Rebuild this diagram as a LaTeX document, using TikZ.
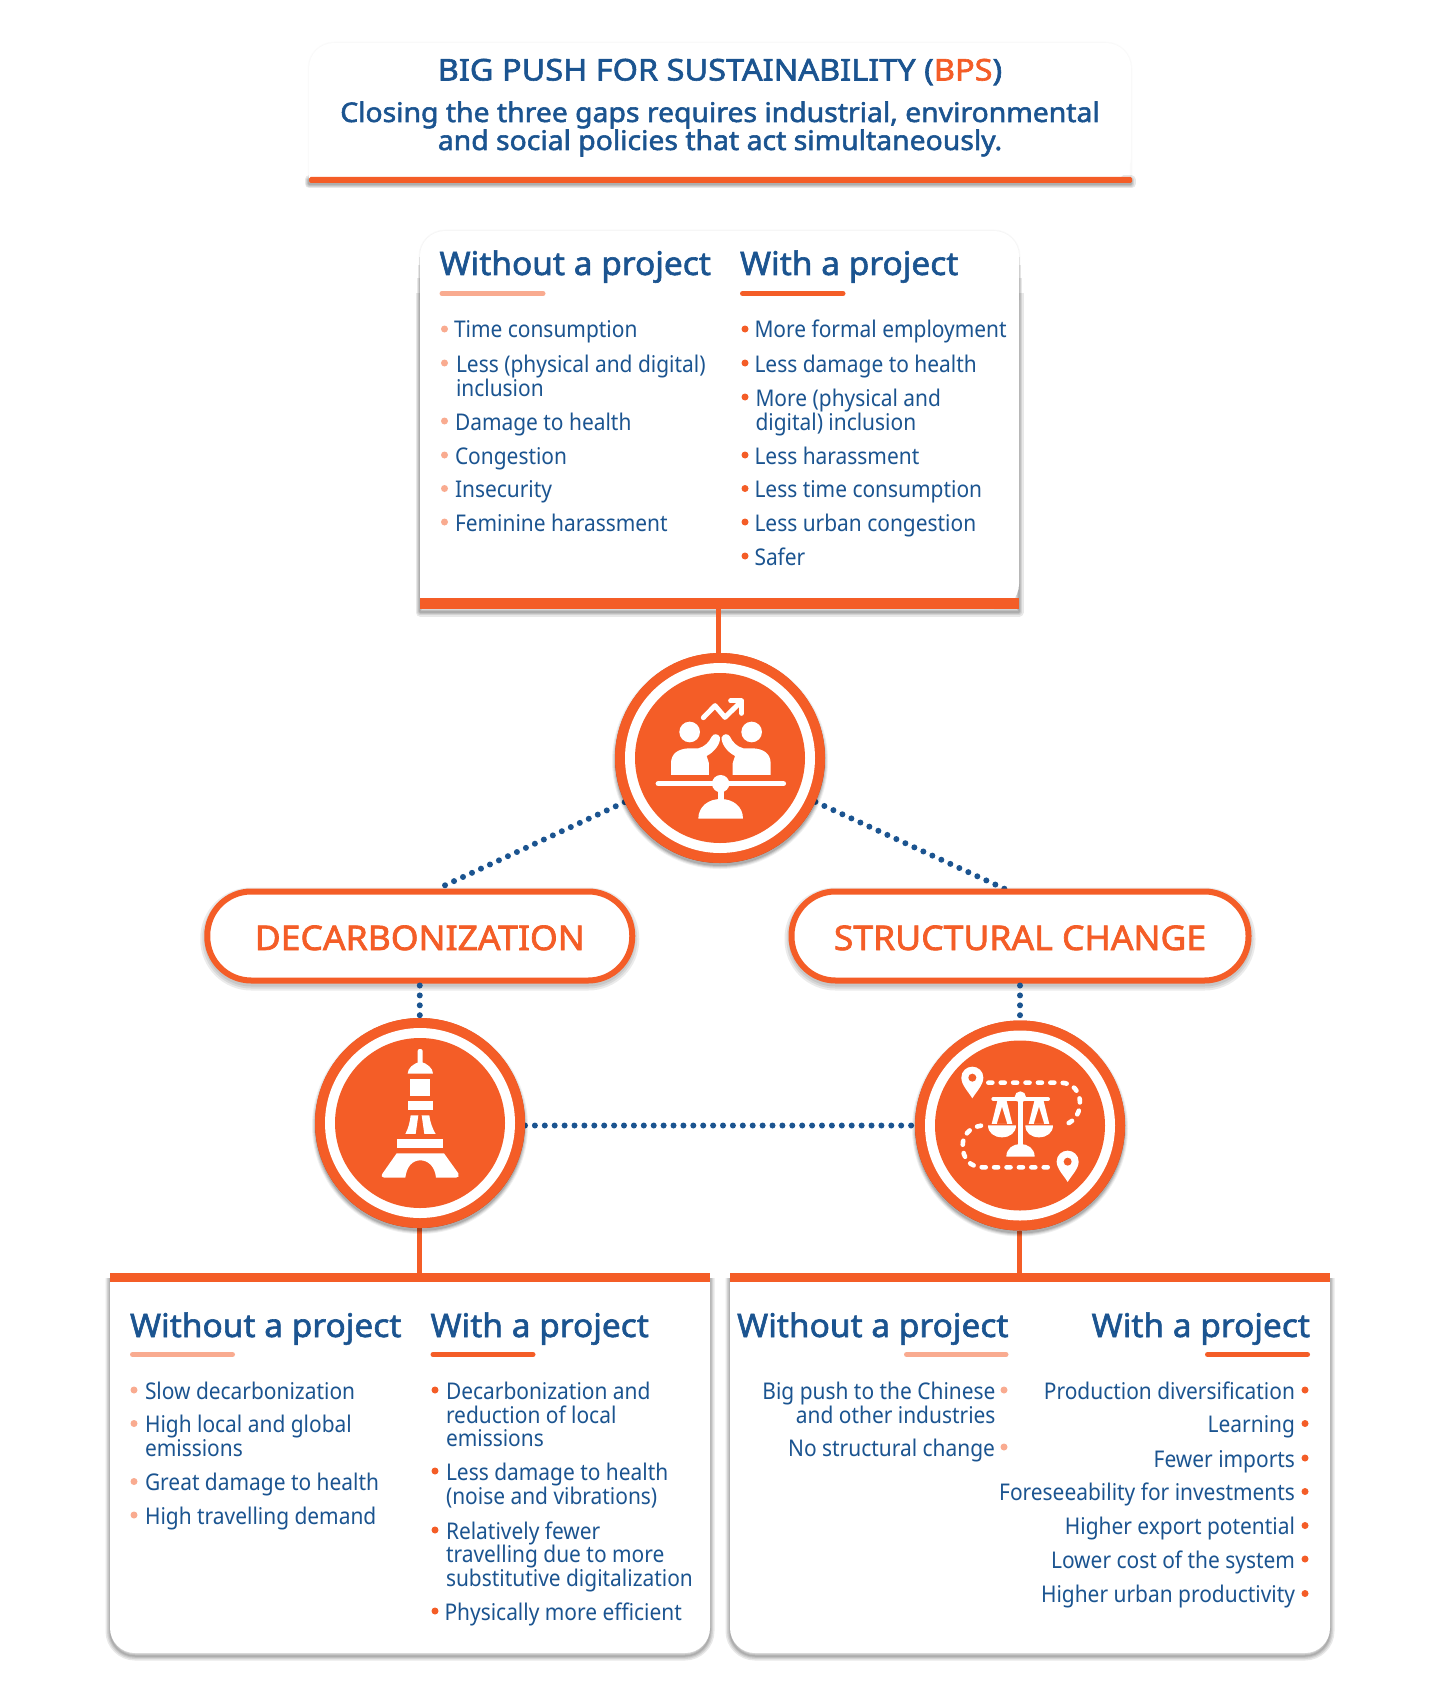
\documentclass[tikz,border=0pt]{standalone}
\usepackage{fontspec}
\setmainfont{Noto Sans}
\newfontfamily\bodyf[FakeStretch=0.91]{Noto Sans}
\newfontfamily\headf[FakeStretch=1.03,FakeBold=1.8]{Noto Sans}
\newfontfamily\titlef[FakeStretch=1.083,FakeBold=2]{Noto Sans}
\newfontfamily\subf[FakeStretch=1.05,FakeBold=2]{Noto Sans}
\newfontfamily\pillf[FakeStretch=1.045,FakeBold=2]{Noto Sans}
\definecolor{org}{HTML}{F45D27}
\definecolor{lorg}{HTML}{F9AB90}
\definecolor{blu}{HTML}{1B5490}
\newcount\nn
\newcommand{\TL}[3]{\global\advance\nn by 1 \node[txt,anchor=base west] (t\the\nn) at (#1,#2) {#3};}
\newcommand{\TR}[3]{\global\advance\nn by 1 \node[txt,anchor=base east] (t\the\nn) at (#1,#2) {#3};}
\newcommand{\HL}[3]{\global\advance\nn by 1 \node[hd,anchor=base west] (t\the\nn) at (#1,#2) {#3};}
\newcommand{\HR}[3]{\global\advance\nn by 1 \node[hd,anchor=base east] (t\the\nn) at (#1,#2) {#3};}
\newcommand{\BUL}[3]{\fill[#1] (#2,#3-9) circle (3.5);}
\newcommand{\softsh}[1]{\foreach \w in {9,6,3.5,1.5}{\draw[black,opacity=.09,line width=\w pt,line join=round] #1;}}
\tikzset{
 txt/.style={inner sep=0,outer sep=0,text=blu,font=\bodyf\fontsize{23}{24}\selectfont},
 hd/.style={inner sep=0,outer sep=0,text=blu,font=\headf\fontsize{32.5}{34}\selectfont},
 ttl/.style={inner sep=0,outer sep=0,text=blu,anchor=base,font=\titlef\fontsize{30}{30}\selectfont},
 sub/.style={inner sep=0,outer sep=0,text=blu,anchor=base,font=\subf\fontsize{27}{27}\selectfont},
 pilltxt/.style={inner sep=0,outer sep=0,text=org,anchor=base,font=\pillf\fontsize{34}{34}\selectfont},
 ring/.style={circle,fill=org,minimum size=210pt,inner sep=0,outer sep=0},
 dotl/.style={blu,line width=6pt,line cap=round,dash pattern=on 0pt off 9.9pt},
 con/.style={org,line width=5pt},
 ubar/.style={line width=5pt,line cap=round},
 pill/.style={draw=org,line width=6pt,fill=white,rounded corners=44pt,inner sep=0,outer sep=0},
}
\begin{document}
\begin{tikzpicture}[x=1pt,y=-1pt]
\useasboundingbox (0,0) rectangle (1440,1688);
\fill[white] (0,0) rectangle (1440,1688);

%% Title box
\softsh{(309,180) -- (1131,180) -- (1131,184) -- (309,184) -- cycle}
\foreach \w in {3,1.5}{\draw[black,opacity=.012,line width=\w pt,rounded corners=25pt] (309,177) -- (309,43) -- (1131,43) -- (1131,177);}
\fill[white,rounded corners=25pt] (309,182) -- (309,43) -- (1131,43) -- (1131,182) [sharp corners] -- cycle;
\fill[org,rounded corners=1.5pt] (309,177) rectangle (1132,183);
\node[ttl] (title) at (720,80.5) {BIG PUSH FOR SUSTAINABILITY ({\color{org}BPS})};
\node[sub] (sub1) at (720,122) {Closing the three gaps requires industrial, environmental};
\node[sub] (sub2) at (720,150) {and social policies that act simultaneously.};

%% Top box
\foreach \w in {3,1.5}{\draw[black,opacity=.02,line width=\w pt,rounded corners=25pt] (420,300) -- (420,231) -- (1019,231) -- (1019,300);}
\begin{scope}[yshift=-3pt]
\foreach \w/\s in {9/290,6/275,3.5/262,1.5/254}{\draw[black,opacity=.09,line width=\w pt,line join=round] (420,\s) -- (420,609) -- (1019,609) -- (1019,\s);}
\end{scope}
\fill[white,rounded corners=25pt] (420,609) -- (420,231) -- (1019,231) -- (1019,609) [sharp corners] -- cycle;
\fill[org] (420,598) rectangle (1019,609);
\HL{439.5}{275}{Without a project}
\HL{740}{275}{With a project}
\draw[ubar,lorg] (442,293.5) -- (543,293.5);
\draw[ubar,org] (742.5,293.5) -- (843,293.5);
\BUL{lorg}{444.5}{338}\TL{454}{337.5}{Time consumption}
\BUL{lorg}{444.5}{372}\TL{456}{372}{Less (physical and digital)}
\TL{456}{396}{inclusion}
\BUL{lorg}{444.5}{430}\TL{455}{430}{Damage to health}
\BUL{lorg}{444.5}{464}\TL{455}{464}{Congestion}
\BUL{lorg}{444.5}{497.5}\TL{455}{497.5}{Insecurity}
\BUL{lorg}{444.5}{531}\TL{455}{531}{Feminine harassment}
\BUL{org}{745}{338}\TL{754.5}{337.5}{More formal employment}
\BUL{org}{745}{372}\TL{754.5}{372}{Less damage to health}
\BUL{org}{745}{406}\TL{755.5}{406}{More (physical and}
\TL{755.5}{430}{digital) inclusion}
\BUL{org}{745}{464}\TL{754.5}{464}{Less harassment}
\BUL{org}{745}{497.5}\TL{754.5}{497.5}{Less time consumption}
\BUL{org}{745}{531}\TL{754.5}{531}{Less urban congestion}
\BUL{org}{745}{565}\TL{754.5}{565}{Safer}

%% Bottom boxes
\begin{scope}[yshift=-3pt]
\softsh{(110,1275) [rounded corners=25pt] -- (110,1653) -- (710,1653) [sharp corners] -- (710,1275)}
\softsh{(730,1275) [rounded corners=25pt] -- (730,1653) -- (1330,1653) [sharp corners] -- (1330,1275)}
\end{scope}
\fill[white] (110,1273) -- (710,1273) [rounded corners=25pt] -- (710,1653) -- (110,1653) [sharp corners] -- (110,1273) -- cycle;
\fill[white] (730,1273) -- (1330,1273) [rounded corners=25pt] -- (1330,1653) -- (730,1653) [sharp corners] -- (730,1273) -- cycle;
\fill[org] (110,1273) rectangle (710,1282);
\fill[org] (730,1273) rectangle (1330,1282);

%% Named points for solid connectors
\coordinate (boxTb) at (718,609);
\coordinate (boxLt) at (419,1273);
\coordinate (boxRt) at (1019,1273);

%% Rings and pills
\node[ring] (c1) at (720,758) {};
\node[ring] (c2) at (420,1123) {};
\node[ring] (c3) at (1020,1125.5) {};
\coordinate (pdT) at (437,889);
\coordinate (psT) at (1005,889);

%% Connectors
\draw[con] (boxTb) -- (boxTb |- c1.north);
\draw[con] (boxLt) -- (boxLt |- c2.south);
\draw[con] (boxRt) -- (boxRt |- c3.south);
\draw[dotl] (c1) -- (pdT);
\draw[dotl] (c1) -- (psT);
\draw[dotl] (c2.east |- c3.west) -- (c3.center);

%% Pills
\foreach \w in {6,10,14}{
 \draw[black,opacity=.08,line width=\w pt,rounded corners=44pt] (207.25,894.5) rectangle (632.25,983.5);
 \draw[black,opacity=.08,line width=\w pt,rounded corners=44pt] (791.5,894.5) rectangle (1248.5,983.5);
}
\node[pill,minimum width=425pt,minimum height=89pt] (pd) at (419.75,936) {};
\node[pill,minimum width=457pt,minimum height=89pt] (ps) at (1020,936) {};
\node[pilltxt] (pdt) at (419.75,950) {DECARBONIZATION};
\node[pilltxt] (pst) at (1020,950) {STRUCTURAL CHANGE};
\draw[dotl] (pd.south) ++(0,5) -- (c2.center);
\draw[dotl] (ps.south) ++(0,5) -- (c3.center);

%% Ring shadows, repaint
\foreach \cx/\cy in {720/758,420/1123,1020/1125.5}{
 \foreach \r/\o in {108/.06,107/.08,106/.1,105/.12}{
  \fill[black,opacity=\o] (\cx,\cy+3) circle (\r);
 }
 \fill[org] (\cx,\cy) circle (105);
 \fill[white] (\cx,\cy) circle (95);
 \fill[org] (\cx,\cy) circle (85);
}

%% Icon 1
\begin{scope}[shift={(590,630)},x=0.3333pt,y=-0.3333pt]
\fill[white] (299,306) circle [radius=31] (485,306) circle [radius=31];
\fill[white] (243,435) -- (243,400) .. controls (243,370) and (265,357) .. (295,355) -- (325,355) .. controls (345,350) and (358,335) .. (365,320) .. controls (370,310) and (385,310) .. (390,322) .. controls (392,340) and (375,365) .. (350,378) -- (357,400) -- (357,435) -- cycle;
\fill[white] (542,435) -- (542,400) .. controls (542,370) and (520,357) .. (490,355) -- (460,355) .. controls (440,350) and (427,335) .. (420,320) .. controls (415,310) and (400,310) .. (395,322) .. controls (393,340) and (410,365) .. (435,378) -- (428,400) -- (428,435) -- cycle;
\draw[white,line width=5.5pt,line cap=round] (205,461) -- (580,461);
\fill[white] (392,461) circle [radius=26];
\fill[white] (383,461) rectangle (401,515);
\fill[white] (325,566) .. controls (325,530) and (355,507) .. (392,507) .. controls (430,507) and (459,530) .. (459,566) -- cycle;
\draw[white,line width=5pt,line cap=round,line join=round] (340,263) -- (375,227) -- (405,262) -- (450,218);
\draw[white,line width=5pt,line cap=round,line join=round] (422,213) -- (455,213) -- (455,250);
\end{scope}

%% Icon 2
\begin{scope}[shift={(300,1000)},x=0.3333pt,y=-0.3333pt]
\fill[white,rounded corners=2pt] (353,195) -- (353,147) -- (368,147) -- (368,195) -- cycle;
\fill[white] (323,221) .. controls (323,205) and (340,190) .. (361,185) .. controls (382,190) and (399,205) .. (399,221) -- cycle;
\fill[white] (331,237) rectangle (391,288);
\fill[white] (323,304) rectangle (399,330);
\fill[white] (332,346) -- (355,346) -- (347,402) -- (316,402) .. controls (325,385) and (330,365) .. (332,346) -- cycle;
\fill[white] (365,346) -- (388,346) .. controls (390,365) and (397,385) .. (407,402) -- (373,402) -- cycle;
\fill[white] (292,417) rectangle (429,444);
\fill[white] (290,460) -- (432,460) -- (475,520) .. controls (478,528) and (476,533) .. (468,533) -- (408,533) .. controls (405,500) and (385,481) .. (361,481) .. controls (337,481) and (320,500) .. (316,533) -- (253,533) .. controls (245,533) and (243,528) .. (248,520) -- cycle;
\end{scope}

%% Icon 3
\begin{scope}[shift={(900,1000)},x=0.3333pt,y=-0.3333pt]
\fill[white] (217,295) .. controls (205,275) and (184,255) .. (184,233) .. controls (184,214) and (199,200) .. (217,200) .. controls (235,200) and (250,214) .. (250,233) .. controls (250,255) and (229,275) .. (217,295) -- cycle;
\fill[org] (217,233) circle [radius=12];
\fill[white] (503,546) .. controls (491,526) and (470,506) .. (470,485) .. controls (470,466) and (485,452) .. (503,452) .. controls (521,452) and (536,466) .. (536,485) .. controls (536,506) and (515,526) .. (503,546) -- cycle;
\fill[org] (503,485) circle [radius=12];
\draw[white,line width=4.6pt,line cap=round,dash pattern=on 4pt off 8.4pt] (265,248) -- (480,248) .. controls (520,248) and (540,275) .. (540,310) .. controls (540,345) and (515,372) .. (488,375);
\draw[white,line width=4.6pt,line cap=round,dash pattern=on 4pt off 8.4pt] (243,377) .. controls (210,382) and (188,405) .. (188,437) .. controls (188,475) and (210,502) .. (248,502) -- (450,502);
\draw[white,line width=4pt,line cap=round] (280,297) -- (444,297);
\fill[white] (361,291) circle [radius=17];
\fill[white] (354,297) rectangle (368,440);
\fill[white] (319,470) .. controls (319,445) and (340,432) .. (361,432) .. controls (383,432) and (404,445) .. (404,470) -- cycle;
\fill[white] (264,376) -- (348,376) .. controls (348,398) and (330,412) .. (306,412) .. controls (282,412) and (264,398) .. (264,376) -- cycle;
\fill[white] (376,376) -- (459,376) .. controls (459,398) and (441,412) .. (417,412) .. controls (393,412) and (376,398) .. (376,376) -- cycle;
\fill[white,even odd rule] (292,303) -- (320,303) -- (337,372) -- (275,372) -- cycle (306,320) -- (322,372) -- (290,372) -- cycle;
\fill[white,even odd rule] (403,303) -- (431,303) -- (448,372) -- (386,372) -- cycle (417,320) -- (433,372) -- (401,372) -- cycle;
\end{scope}

%% Bottom-left text
\HL{130}{1337}{Without a project}
\HL{430.5}{1337}{With a project}
\draw[ubar,lorg] (132.5,1354.5) -- (232.5,1354.5);
\draw[ubar,org] (433,1354.5) -- (533,1354.5);
\BUL{lorg}{134}{1399}\TL{145}{1399}{Slow decarbonization}
\BUL{lorg}{134}{1432.5}\TL{145}{1432.5}{High local and global}
\TL{145}{1456}{emissions}
\BUL{lorg}{134}{1490.5}\TL{145}{1490.5}{Great damage to health}
\BUL{lorg}{134}{1524}\TL{145}{1524}{High travelling demand}
\BUL{org}{435}{1399}\TL{446}{1399}{Decarbonization and}
\TL{446}{1423}{reduction of local}
\TL{446}{1446.5}{emissions}
\BUL{org}{435}{1480}\TL{446}{1480}{Less damage to health}
\TL{446}{1504}{(noise and vibrations)}
\BUL{org}{435}{1539}\TL{446}{1539}{Relatively fewer}
\TL{446}{1562.5}{travelling due to more}
\TL{446}{1586}{substitutive digitalization}
\BUL{org}{435}{1620}\TL{444.5}{1620}{Physically more efficient}

%% Bottom-right text
\HR{1008.5}{1337}{Without a project}
\HR{1310}{1337}{With a project}
\draw[ubar,lorg] (906.5,1354.5) -- (1006,1354.5);
\draw[ubar,org] (1207.5,1354.5) -- (1307.5,1354.5);
\TR{995.5}{1399}{Big push to the Chinese}\BUL{lorg}{1004}{1399}
\TR{995.5}{1423}{and other industries}
\TR{995}{1456}{No structural change}\BUL{lorg}{1004}{1456}
\TR{1295}{1399}{Production diversification}\BUL{org}{1305}{1399}
\TR{1295}{1432.5}{Learning}\BUL{org}{1305}{1432.5}
\TR{1295}{1467}{Fewer imports}\BUL{org}{1305}{1467}
\TR{1295}{1500.5}{Foreseeability for investments}\BUL{org}{1305}{1500.5}
\TR{1295}{1534.5}{Higher export potential}\BUL{org}{1305}{1534.5}
\TR{1295}{1568}{Lower cost of the system}\BUL{org}{1305}{1568}
\TR{1295}{1602.5}{Higher urban productivity}\BUL{org}{1305}{1602.5}
\end{tikzpicture}
\end{document}
